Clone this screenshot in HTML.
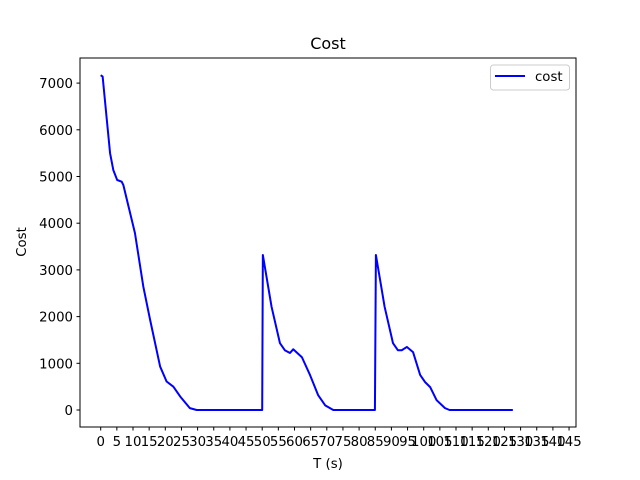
<!DOCTYPE html>
<html><head><meta charset="utf-8"><style>body{margin:0;background:#fff}svg{display:block;font-family:"DejaVu Sans","Liberation Sans",sans-serif}</style></head>
<body>
<svg id="chart" width="640" height="480" viewBox="0 0 640 480">
<rect width="640" height="480" fill="#fff"/>
<text x="328" y="49" font-size="16" text-anchor="middle">Cost</text>
<g id="xt"></g><g id="yt"></g>
<polyline id="line" fill="none" stroke="#0000ff" stroke-width="2" stroke-linejoin="round"/>
<rect x="80" y="58" width="496" height="369" fill="none" stroke="#000" stroke-width="1"/>
<text x="328" y="468" font-size="13.3" text-anchor="middle">T (s)</text>
<text x="26" y="242" font-size="13.3" text-anchor="middle" transform="rotate(-90 26 242)">Cost</text>
<g>
<rect x="490.5" y="65" width="79" height="25" rx="3" fill="#fff" stroke="#ccc"/>
<line x1="495" y1="76" x2="525" y2="76" stroke="#0000ff" stroke-width="2"/>
<text x="535" y="81" font-size="13.3">cost</text>
</g>
</svg>
<script>
const times=[0,0.6,1.9,2.9,3.9,5.1,6.5,7,10.6,13.2,15.3,18.4,20.4,22.5,24.6,27.6,29.7,50,50.2,52.9,55.5,57,58.6,59.6,62.3,64.8,67.3,69.5,72,84.9,85.2,87.9,90.5,92,93.2,94.8,96.7,98.9,100.4,102,104,106.6,108,127.6];
const costs=[7170,7140,6210,5500,5140,4925,4890,4820,3790,2640,1930,930,610,500,290,40,0,0,3320,2210,1430,1280,1220,1300,1130,750,320,100,0,0,3320,2210,1430,1280,1280,1350,1240,750,600,490,210,40,0,0];
const xTicks=[0,5,10,15,20,25,30,35,40,45,50,55,60,65,70,75,80,85,90,95,100,105,110,115,120,125,130,135,140,145];
const yTicks=[0,1000,2000,3000,4000,5000,6000,7000];
const X=t=>100.7+t*3.23, Y=v=>410-v*0.0467;
const ns="http://www.w3.org/2000/svg";
document.getElementById('line').setAttribute('points',times.map((t,i)=>X(t)+','+Y(costs[i])).join(' '));
const xt=document.getElementById('xt');
xTicks.forEach(t=>{const l=document.createElementNS(ns,'line');


l.setAttribute('x1',X(t));l.setAttribute('x2',X(t));l.setAttribute('y1',427);l.setAttribute('y2',430.5);l.setAttribute('stroke','#000');xt.appendChild(l);
const s=document.createElementNS(ns,'text');


s.setAttribute('x',X(t));s.setAttribute('y',446);s.setAttribute('font-size','13.3');s.setAttribute('text-anchor','middle');s.textContent=t;xt.appendChild(s);});
const yt=document.getElementById('yt');
yTicks.forEach(v=>{const l=document.createElementNS(ns,'line');


l.setAttribute('x1',76.5);l.setAttribute('x2',80);l.setAttribute('y1',Y(v));l.setAttribute('y2',Y(v));l.setAttribute('stroke','#000');yt.appendChild(l);
const s=document.createElementNS(ns,'text');


s.setAttribute('x',73);s.setAttribute('y',Y(v)+5);s.setAttribute('font-size','13.3');s.setAttribute('text-anchor','end');s.textContent=v;yt.appendChild(s);});
</script>
</body></html>
